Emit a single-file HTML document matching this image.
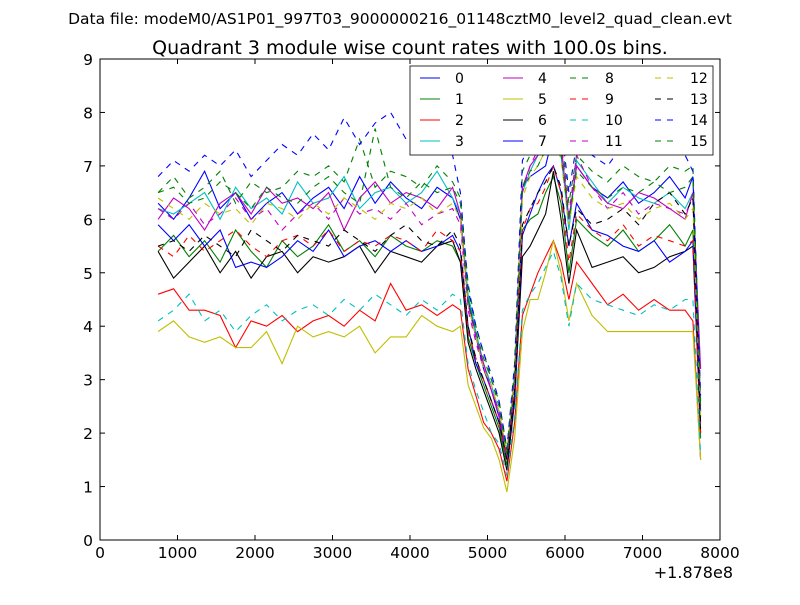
<!DOCTYPE html>
<html><head><meta charset="utf-8"><style>
html,body{margin:0;padding:0;background:#fff;}
svg text{font-family:"DejaVu Sans","Liberation Sans",sans-serif;}
</style></head><body>
<svg id="chart" width="800" height="600" xmlns="http://www.w3.org/2000/svg">
<rect width="800" height="600" fill="#fff"/>
<text x="400" y="24" font-size="15.5" text-anchor="middle">Data file: modeM0/AS1P01_997T03_9000000216_01148cztM0_level2_quad_clean.evt</text>
<text x="410" y="54" font-size="19" text-anchor="middle">Quadrant 3 module wise count rates with 100.0s bins.</text>
<g id="series"></g>
<rect x="100" y="59" width="620" height="481" fill="none" stroke="#000" stroke-width="1"/>
<g id="axes"></g>
<g id="legend"></g>
<text x="733" y="578" font-size="16" text-anchor="end">+1.878e8</text>
</svg>
<script>
const xs=[750,950,1150,1350,1550,1750,1950,2150,2350,2550,2750,2950,3150,3350,3550,3750,3950,4150,4350,4550,4650,4750,4850,4950,5050,5150,5250,5350,5450,5550,5650,5750,5850,5950,6050,6150,6350,6550,6750,6950,7150,7350,7550,7650,7750];
const s0=[6.3,6.0,6.4,6.9,6.2,6.5,6.0,6.3,6.5,6.1,6.4,6.6,6.2,6.8,6.3,6.7,6.4,6.2,6.6,6.4,6.0,4.5,3.8,3.2,2.8,2.3,1.6,3.0,6.6,6.8,6.9,7.0,7.6,7.2,6.0,7.0,6.6,6.4,6.7,6.3,6.5,6.8,6.4,6.8,2.4];
const s1=[5.4,5.7,5.3,5.6,5.2,5.8,5.4,5.1,5.6,5.3,5.5,5.9,5.4,5.6,5.3,5.7,5.5,5.4,5.6,5.5,5.2,3.8,3.3,2.9,2.5,2.1,1.4,2.6,5.8,6.0,6.1,6.5,6.8,6.3,5.0,6.0,5.7,5.5,5.8,5.4,5.6,5.9,5.5,5.8,1.9];
const s2=[4.6,4.7,4.3,4.3,4.2,3.6,4.1,4.0,4.2,3.9,4.1,4.2,4.0,4.3,4.1,4.8,4.3,4.4,4.2,4.4,4.3,3.2,2.7,2.2,2.0,1.7,1.1,2.2,4.2,4.6,5.0,5.3,5.6,5.2,4.5,5.2,4.8,4.4,4.6,4.3,4.5,4.3,4.3,4.1,1.5];
const s3=[6.2,6.1,6.3,6.5,6.0,6.6,6.2,6.4,6.1,6.7,6.3,6.4,6.8,6.2,6.5,6.6,6.3,6.5,6.9,6.4,6.1,4.6,3.9,3.3,2.9,2.4,1.6,3.1,6.5,6.9,7.2,7.4,8.2,7.3,5.8,7.1,6.7,6.3,6.6,6.4,6.3,6.5,6.2,6.5,2.3];
const s4=[6.0,6.4,6.2,5.8,6.3,6.5,6.1,6.6,6.3,6.4,6.2,6.5,5.8,6.4,6.7,6.3,6.5,6.4,6.2,6.6,6.1,4.4,3.8,3.3,2.8,2.4,1.6,3.0,6.6,7.0,7.2,7.5,7.8,7.4,6.0,7.0,6.6,6.3,6.2,6.5,6.4,6.2,6.0,6.5,3.2];
const s5=[3.9,4.1,3.8,3.7,3.8,3.6,3.6,3.9,3.3,4.0,3.8,3.9,3.8,4.0,3.5,3.8,3.8,4.2,4.0,3.9,4.0,2.9,2.5,2.1,1.9,1.5,0.9,1.9,3.9,4.5,4.5,5.0,5.6,5.0,4.1,4.8,4.2,3.9,3.9,3.9,3.9,3.9,3.9,3.9,1.5];
const s6=[5.4,4.9,5.2,5.5,5.0,5.4,4.9,5.3,5.4,5.0,5.3,5.2,5.3,5.5,5.0,5.4,5.3,5.2,5.5,5.6,5.2,3.7,3.2,2.8,2.4,2.0,1.3,2.6,5.3,5.5,5.8,6.1,6.9,6.0,4.8,5.8,5.1,5.2,5.3,5.0,5.1,5.3,5.4,5.5,2.0];
const s7=[5.9,5.6,5.9,5.5,5.8,5.1,5.2,5.1,5.3,5.6,5.4,5.8,5.3,5.5,5.6,5.4,5.6,5.4,5.5,5.7,5.4,4.0,3.3,3.0,2.6,2.2,1.5,2.7,5.7,6.1,6.5,6.8,7.0,6.5,5.5,6.3,5.8,5.7,5.5,5.4,5.6,5.2,5.4,5.6,2.2];
const s8=[6.5,6.8,6.4,6.6,6.9,6.3,6.7,6.5,6.6,6.9,6.8,7.0,6.7,7.5,6.6,6.9,6.8,6.6,7.0,6.7,6.4,4.8,4.0,3.5,3.0,2.6,1.7,3.2,6.9,7.2,7.3,7.6,8.0,7.6,6.3,7.2,6.9,6.7,7.0,6.8,6.7,7.0,6.9,7.0,2.6];
const s9=[5.5,5.3,5.7,5.4,5.6,5.8,5.5,5.3,5.6,5.7,5.5,5.8,5.4,5.6,5.5,5.7,5.6,5.4,5.8,5.6,5.4,3.9,3.4,3.0,2.6,2.2,1.5,2.8,5.8,6.2,6.3,6.6,7.0,6.5,5.2,6.1,5.8,5.6,5.9,5.5,5.7,5.6,5.5,5.6,2.0];
const s10=[4.1,4.3,4.6,4.1,4.3,3.9,4.2,4.4,4.1,4.3,4.4,4.2,4.5,4.3,4.6,4.4,4.2,4.5,4.3,4.6,4.5,3.3,2.8,2.4,2.0,1.8,1.2,2.3,4.3,4.6,4.8,5.1,5.4,4.9,4.0,4.8,4.5,4.4,4.3,4.2,4.4,4.3,4.5,4.5,1.6];
const s11=[6.2,6.0,6.3,5.9,6.1,6.4,6.0,6.2,5.8,6.1,6.3,6.0,6.4,6.1,6.2,6.0,6.3,5.9,6.1,6.2,5.9,4.3,3.7,3.2,2.8,2.3,1.5,3.0,6.5,7.0,7.3,8.0,8.5,7.5,6.1,7.2,6.6,6.2,6.5,6.1,6.3,6.2,6.1,6.4,2.5];
const s12=[6.4,6.2,6.0,6.3,6.1,6.2,5.9,6.3,6.2,6.0,6.3,6.1,6.4,6.2,6.0,6.3,6.2,6.4,6.1,6.3,6.0,4.4,3.8,3.2,2.9,2.4,1.6,3.0,6.4,6.8,7.0,7.3,7.6,7.1,5.9,6.8,6.4,6.2,6.3,6.0,6.2,6.3,6.0,6.2,2.3];
const s13=[5.5,5.6,5.4,5.7,5.5,5.3,5.8,5.6,5.4,5.7,5.6,5.5,5.8,5.6,5.4,5.7,5.9,5.6,5.5,5.8,5.5,4.0,3.4,3.0,2.6,2.2,1.5,2.8,5.9,6.2,6.5,6.7,7.0,6.6,5.5,6.2,5.9,6.0,6.2,5.9,6.3,6.5,6.1,6.4,2.1];
const s14=[6.8,7.1,6.9,7.2,7.0,7.3,6.8,7.1,7.4,7.2,7.6,7.3,7.9,7.4,7.8,8.0,7.5,7.3,7.6,7.2,6.5,4.7,4.0,3.5,3.1,2.6,1.7,3.3,7.1,7.4,7.6,7.8,8.2,7.8,6.5,7.4,7.2,7.0,7.4,7.2,7.3,7.6,7.2,6.9,2.7];
const s15=[6.5,6.6,6.3,6.4,6.7,6.5,6.2,6.6,6.4,6.3,6.6,6.8,6.5,6.3,7.7,6.6,6.4,6.7,6.5,6.6,6.3,4.5,3.9,3.4,3.0,2.5,1.6,3.1,6.6,6.9,7.0,7.3,7.5,7.2,6.0,6.9,6.6,6.4,6.6,6.5,6.7,6.5,6.6,6.8,2.5];
const seriesValues=[s0,s1,s2,s3,s4,s5,s6,s7,s8,s9,s10,s11,s12,s13,s14,s15];
const seriesLabels=["0","1","2","3","4","5","6","7","8","9","10","11","12","13","14","15"];
const xTicks=[0,1000,2000,3000,4000,5000,6000,7000,8000];
const yTicks=[0,1,2,3,4,5,6,7,8,9];

const colors=["#0000ff","#008000","#ff0000","#00bfbf","#bf00bf","#bfbf00","#000000"];
const NS="http://www.w3.org/2000/svg";
const X=v=>100+v/8000*620;
const Y=v=>540-v/9*481;
const gS=document.getElementById('series'),gA=document.getElementById('axes'),gL=document.getElementById('legend');
function mk(tag,attrs,parent){const e=document.createElementNS(NS,tag);for(const k in attrs)e.setAttribute(k,attrs[k]);parent.appendChild(e);return e;}

seriesValues.forEach((vals,i)=>{
  const d=vals.map((v,j)=>(j?'L':'M')+X(xs[j]).toFixed(1)+','+Y(v).toFixed(1)).join('');
  const p=mk('path',{d:d,fill:'none',stroke:colors[i%7],'stroke-width':1.1},gS);
  if(i>=8)p.setAttribute('stroke-dasharray','6,6');
  
  
});

xTicks.forEach(t=>{
  const x=X(t);
  const a=mk('line',{x1:x,x2:x,y1:540,y2:535,stroke:'#000'},gA);
  
  
  const b=mk('line',{x1:x,x2:x,y1:59,y2:64,stroke:'#000'},gA);
  
  
  const tx=mk('text',{x:x,y:558,'font-size':15.5,'text-anchor':'middle'},gA);
  tx.textContent=t;
  
  
});
yTicks.forEach(t=>{
  const y=Y(t);
  const a=mk('line',{x1:100,x2:105,y1:y,y2:y,stroke:'#000'},gA);
  
  
  const b=mk('line',{x1:715,x2:720,y1:y,y2:y,stroke:'#000'},gA);
  
  
  const tx=mk('text',{x:93,y:y+6,'font-size':15.5,'text-anchor':'end'},gA);
  tx.textContent=t;
  
  
});

const box=mk('rect',{x:410,y:66,width:303,height:89,fill:'#fff',stroke:'#000','stroke-width':0.8},gL);


const colX=[420,503,570,655], rowY=[78,99,120,141];
seriesLabels.forEach((lab,i)=>{
  const c=Math.floor(i/4), r=i%4;
  const ln=mk('line',{x1:colX[c],x2:colX[c]+20,y1:rowY[r],y2:rowY[r],stroke:colors[i%7],'stroke-width':1.1},gL);
  if(i>=8)ln.setAttribute('stroke-dasharray','6,6');
  
  
  const tx=mk('text',{x:colX[c]+35,y:rowY[r]+5,'font-size':14},gL);
  tx.textContent=lab;
  
  
});
</script>
</body></html>
